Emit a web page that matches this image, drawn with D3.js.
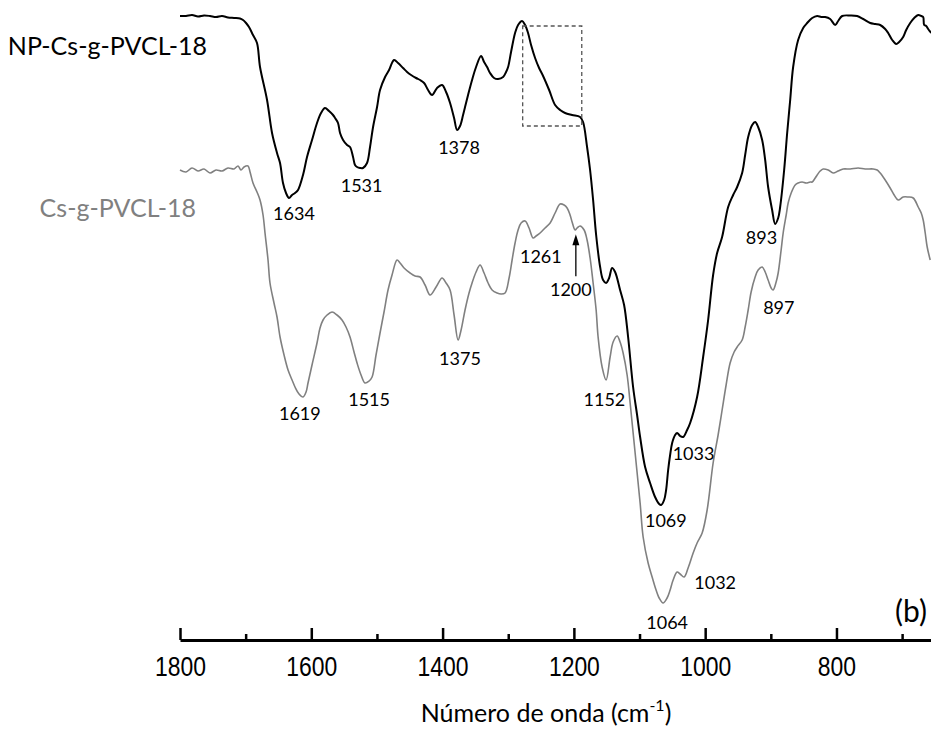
<!DOCTYPE html>
<html>
<head>
<meta charset="utf-8">
<script src="https://cdn.jsdelivr.net/npm/d3@7"></script>
<style>
  html, body { margin: 0; padding: 0; background: #fff; }
  svg { display: block; }
</style>
</head>
<body>
<svg id="chart" width="931" height="729"></svg>
<script>
// ---------------- DATA ----------------
// NP-Cs-g-PVCL-18 : [wavenumber (cm-1), transmittance (a.u.)]
const npSpectrum = [[1800.0,62.4],[1790.9,62.4],[1781.7,62.5],[1772.6,62.35],[1763.4,62.45],[1754.3,62.4],[1745.1,62.3],[1736.0,62.4],[1726.9,62.25],[1717.7,62.2],[1708.6,62.15],[1704.0,62.0],[1699.4,61.7],[1694.9,61.3],[1688.8,60.5],[1682.7,59.7],[1678.1,57.3],[1667.4,54.0],[1659.8,50.7],[1652.2,48.7],[1647.6,47.7],[1643.1,45.7],[1638.5,44.7],[1633.9,44.2],[1629.3,44.5],[1624.8,44.7],[1620.2,45.0],[1612.6,46.5],[1606.5,48.3],[1598.9,50.0],[1591.3,51.7],[1585.2,52.7],[1579.1,53.2],[1573.0,52.9],[1566.9,52.5],[1563.8,52.2],[1559.3,51.7],[1556.2,50.7],[1551.6,50.0],[1545.5,49.5],[1541.0,49.3],[1536.4,48.3],[1533.4,47.5],[1530.3,47.3],[1525.7,47.2],[1521.2,47.2],[1515.1,47.7],[1510.5,49.3],[1505.9,51.3],[1499.8,53.3],[1495.3,55.0],[1487.6,56.3],[1481.5,57.0],[1473.9,58.0],[1467.8,57.7],[1460.2,57.2],[1454.1,56.8],[1448.0,56.5],[1440.4,56.2],[1434.3,56.0],[1428.2,55.7],[1422.1,55.0],[1416.0,54.5],[1408.4,55.2],[1400.8,55.5],[1394.7,54.8],[1388.6,53.7],[1382.5,52.2],[1377.9,51.0],[1373.4,51.4],[1368.8,52.5],[1365.8,53.3],[1361.2,54.5],[1355.1,56.0],[1349.0,57.3],[1341.4,58.4],[1336.8,57.8],[1332.2,57.3],[1327.7,56.7],[1321.6,56.2],[1315.5,56.1],[1307.8,56.3],[1303.3,56.8],[1300.2,57.3],[1295.7,58.8],[1289.6,60.7],[1285.0,61.5],[1278.9,61.9],[1274.3,61.5],[1269.8,60.7],[1265.2,59.5],[1259.1,58.2],[1253.0,57.2],[1246.9,56.4],[1237.7,55.0],[1228.6,53.5],[1221.0,53.0],[1213.4,52.7],[1202.7,52.5],[1190.5,52.3],[1186.0,51.8],[1179.9,49.3],[1175.3,47.0],[1170.7,44.0],[1166.1,40.5],[1160.0,37.3],[1155.5,36.0],[1150.9,35.7],[1146.3,36.2],[1141.8,37.2],[1137.2,36.8],[1129.6,35.0],[1123.5,33.5],[1117.4,30.3],[1109.8,25.3],[1103.7,22.5],[1099.1,20.3],[1091.5,17.3],[1083.9,15.7],[1076.3,14.3],[1070.1,13.6],[1067.1,13.5],[1062.5,14.0],[1059.5,15.0],[1056.4,17.0],[1053.4,18.5],[1050.3,19.7],[1045.8,20.5],[1042.7,20.7],[1038.2,20.4],[1033.6,20.3],[1027.5,21.0],[1022.9,21.7],[1012.3,24.3],[1003.1,28.3],[995.5,32.0],[987.9,36.5],[981.8,38.7],[974.2,40.3],[965.0,43.3],[957.4,44.5],[951.3,45.3],[943.7,46.7],[939.1,48.5],[934.5,50.3],[928.4,51.5],[923.9,51.8],[919.3,51.3],[913.2,50.0],[908.6,48.0],[904.1,45.3],[898.0,43.0],[893.4,41.6],[888.8,42.2],[885.8,43.3],[879.7,47.0],[875.1,50.7],[870.5,54.0],[866.0,57.3],[858.4,60.0],[850.7,61.2],[844.6,61.7],[837.0,62.2],[829.4,62.4],[823.3,62.3],[817.2,62.3],[809.6,62.1],[802.0,61.5],[797.4,61.9],[791.3,62.4],[779.1,62.45],[768.5,62.4],[759.3,62.1],[748.6,61.7],[741.0,61.6],[733.4,61.5],[725.8,61.1],[721.2,60.7],[715.1,60.0],[709.0,59.6],[704.5,59.8],[698.4,60.3],[693.8,61.0],[687.7,61.7],[681.6,62.2],[675.5,62.5],[670.9,62.4],[667.9,62.3],[666.4,61.5],[663.3,61.4],[660.3,61.1],[655.7,60.7]];

// Cs-g-PVCL-18 : [wavenumber (cm-1), transmittance (a.u.)]
const csSpectrum = [[1800.0,47.0],[1790.9,46.8],[1781.7,47.2],[1772.6,46.9],[1763.4,47.1],[1754.3,46.7],[1745.1,47.0],[1736.0,46.9],[1726.9,47.2],[1717.7,47.1],[1711.6,47.4],[1707.1,47.0],[1702.5,47.3],[1696.4,47.4],[1693.3,46.8],[1688.8,45.7],[1682.7,44.8],[1678.1,44.0],[1673.5,42.5],[1670.5,40.7],[1665.9,38.0],[1662.9,35.7],[1656.8,33.7],[1652.2,32.3],[1647.6,30.3],[1641.5,28.5],[1635.4,27.0],[1629.3,26.0],[1624.8,25.3],[1618.7,24.6],[1612.6,24.3],[1608.0,24.8],[1605.0,25.7],[1598.9,27.5],[1591.3,29.7],[1586.7,31.2],[1582.1,32.0],[1576.0,32.5],[1568.4,32.8],[1560.8,32.5],[1553.2,32.0],[1547.1,31.3],[1541.0,30.3],[1534.9,28.8],[1530.3,27.7],[1524.2,26.5],[1518.1,25.7],[1512.0,25.9],[1507.4,26.3],[1501.4,28.5],[1495.3,30.7],[1489.2,32.8],[1483.1,35.0],[1477.0,36.5],[1469.4,38.0],[1464.8,37.7],[1458.7,37.2],[1449.5,36.7],[1441.9,36.4],[1434.3,36.3],[1426.7,35.5],[1419.1,34.5],[1409.9,35.3],[1400.8,36.2],[1394.7,35.7],[1388.6,35.0],[1382.5,32.5],[1376.4,30.0],[1371.8,31.0],[1365.8,33.0],[1359.7,34.7],[1355.1,35.7],[1349.0,36.8],[1342.9,37.5],[1336.8,36.7],[1330.7,35.7],[1324.6,35.0],[1317.0,34.7],[1310.9,34.6],[1304.8,34.7],[1298.7,36.2],[1294.1,38.0],[1289.6,39.7],[1285.0,41.0],[1280.4,41.7],[1274.3,41.9],[1268.3,41.2],[1262.1,40.2],[1257.6,40.4],[1251.5,40.7],[1243.9,41.2],[1236.2,41.7],[1228.6,42.7],[1221.0,43.6],[1214.9,43.5],[1210.3,43.2],[1205.8,42.5],[1202.7,41.8],[1198.1,41.0],[1195.1,41.2],[1190.5,41.4],[1184.4,41.0],[1179.9,40.0],[1175.3,38.2],[1170.7,35.7],[1166.1,33.0],[1163.1,30.3],[1157.0,27.3],[1150.9,26.0],[1144.8,28.3],[1140.2,29.8],[1134.1,30.4],[1129.6,29.8],[1125.0,28.7],[1118.9,26.5],[1114.3,23.7],[1106.7,18.7],[1099.1,13.7],[1094.5,10.3],[1086.9,7.7],[1080.8,6.3],[1076.3,5.3],[1070.1,4.2],[1064.1,3.7],[1058.0,4.2],[1053.4,5.0],[1048.8,6.0],[1042.7,6.8],[1038.2,6.6],[1032.1,6.3],[1026.0,7.2],[1018.3,8.7],[1012.3,9.7],[1004.6,10.7],[997.0,13.0],[987.9,17.7],[980.3,20.5],[974.2,23.0],[968.1,25.5],[962.0,27.7],[955.9,28.8],[951.3,29.3],[943.7,30.0],[939.1,31.3],[934.5,33.0],[930.0,34.8],[923.9,36.3],[919.3,37.0],[913.2,37.3],[908.6,36.8],[904.1,36.0],[899.5,35.2],[896.5,35.0],[891.9,35.8],[888.8,36.7],[884.3,39.0],[881.2,40.7],[876.6,42.5],[873.6,43.7],[869.0,44.7],[862.9,45.5],[858.4,45.7],[852.3,45.8],[846.2,45.7],[840.1,45.8],[837.0,45.8],[832.4,46.2],[829.4,46.5],[824.8,46.9],[820.3,47.1],[812.6,47.0],[805.0,46.7],[797.4,46.9],[789.8,47.1],[779.1,47.1],[767.0,47.2],[756.3,47.1],[744.1,47.1],[738.0,47.0],[733.4,46.7],[725.8,46.0],[718.2,45.2],[712.1,44.5],[706.0,44.0],[698.4,44.3],[690.8,44.3],[683.1,44.2],[675.5,43.3],[670.9,42.7],[667.9,42.0],[664.8,40.7],[661.8,39.3],[657.2,38.0]];

const seriesNames = ["NP-Cs-g-PVCL-18", "Cs-g-PVCL-18"];
const npPeaks = ["1634", "1531", "1378", "1069", "1033", "893"];
const csPeaks = ["1619", "1515", "1375", "1261", "1200", "1152", "1064", "1032", "897"];
const majorTicks = [1800, 1600, 1400, 1200, 1000, 800];
const minorTicks = [1700, 1500, 1300, 1100, 900, 700];
const tickLabels = ["1800", "1600", "1400", "1200", "1000", "800"];
const highlightWn = [1278, 1188];   // dashed box, wavenumber span
const highlightT = [51.4, 61.4];    // dashed box, transmittance span
const panelLabel = "(b)";

// ---------------- LAYOUT / STYLE ----------------
const svg = d3.select("#chart");
const x = d3.scaleLinear().domain([1800, 656]).range([180, 931]);
const y = d3.scaleLinear().domain([0, 64]).range([640, 0]);
const annFont = "Lato, 'Open Sans', sans-serif";
const grayCol = "#808080";

// spectra
const line = d3.line().x(d => x(d[0])).y(d => y(d[1])).curve(d3.curveCatmullRom.alpha(0.5));
svg.append("path").datum(csSpectrum).attr("d", line)
  .attr("fill", "none").attr("stroke", grayCol).attr("stroke-width", 1.6).attr("stroke-linejoin", "round");
svg.append("path").datum(npSpectrum).attr("d", line)
  .attr("fill", "none").attr("stroke", "#000").attr("stroke-width", 2).attr("stroke-linejoin", "round");

// dashed highlight box
svg.append("rect")
  .attr("x", x(highlightWn[0])).attr("y", y(highlightT[1]))
  .attr("width", x(highlightWn[1]) - x(highlightWn[0]))
  .attr("height", y(highlightT[0]) - y(highlightT[1]))
  .attr("fill", "none").attr("stroke", "#555").attr("stroke-width", 1.3)
  .attr("stroke-dasharray", "4,3");

// helper: value of a spectrum at a wavenumber
function valueAt(data, wn) {
  for (let i = 0; i < data.length - 1; i++) {
    const a = data[i], b = data[i + 1];
    if (wn <= a[0] && wn >= b[0]) {
      const t = (a[0] - wn) / (a[0] - b[0]);
      return a[1] + t * (b[1] - a[1]);
    }
  }
  return data[data.length - 1][1];
}

// peak annotation offsets (px) : [dx, dy below curve]
const npOffsets = {"1634": [5, 22], "1531": [5, 25], "1378": [2, 24], "1069": [6, 23], "1033": [10, 24], "893": [-14, 21]};
const csOffsets = {"1619": [1, 26], "1515": [2, 24], "1375": [1, 28], "1261": [7, 25], "1200": [-3, 69],
                   "1152": [-1, 28], "1064": [4, 26], "1032": [31, 12], "897": [6, 24]};

function addPeaks(data, peaks, offs) {
  peaks.forEach(p => {
    const wn = +p;
    const o = offs[p];
    svg.append("text")
      .attr("x", x(wn) + o[0]).attr("y", y(valueAt(data, wn)) + o[1])
      .attr("text-anchor", "middle")
      .attr("font-family", annFont).attr("font-size", 18).attr("fill", "#000")
      .text(p);
  });
}
addPeaks(npSpectrum, npPeaks, npOffsets);
addPeaks(csSpectrum, csPeaks, csOffsets);

// arrow to 1200 shoulder
const arrWn = 1197;
const arrTipY = y(valueAt(csSpectrum, arrWn)) + 5;
const arrX = x(arrWn);
svg.append("line").attr("x1", arrX).attr("x2", arrX)
  .attr("y1", arrTipY + 42).attr("y2", arrTipY + 8)
  .attr("stroke", "#000").attr("stroke-width", 1.3);
svg.append("path")
  .attr("d", `M${arrX},${arrTipY} L${arrX - 3.5},${arrTipY + 11} L${arrX + 3.5},${arrTipY + 11} Z`)
  .attr("fill", "#000");

// series labels
svg.append("text").attr("x", 207).attr("y", y(npSpectrum[0][1]) + 39)
  .attr("text-anchor", "end").attr("font-family", annFont).attr("font-size", 25)
  .attr("fill", "#000").text(seriesNames[0]);
svg.append("text").attr("x", 196).attr("y", y(csSpectrum[0][1]) + 47)
  .attr("text-anchor", "end").attr("font-family", annFont).attr("font-size", 25)
  .attr("fill", grayCol).text(seriesNames[1]);

// axis
const axisG = svg.append("g").attr("transform", `translate(0,${y(0)})`);
axisG.call(d3.axisBottom(x).tickValues(minorTicks).tickSizeInner(-6).tickSizeOuter(0).tickFormat(""))
  .call(g => g.select(".domain").remove())
  .selectAll(".tick line").attr("stroke", "#000").attr("stroke-width", 2.5);
const axisMajor = svg.append("g").attr("transform", `translate(0,${y(0)})`)
  .call(d3.axisBottom(x).tickValues(majorTicks).tickSizeInner(-12).tickSizeOuter(0)
    .tickPadding(17).tickFormat((d, i) => tickLabels[i]));
axisMajor.select(".domain").attr("stroke", "#000").attr("stroke-width", 3);
axisMajor.selectAll(".tick line").attr("stroke", "#000").attr("stroke-width", 2.5);
axisMajor.selectAll(".tick text")
  .attr("font-family", "'Liberation Sans Narrow', 'Liberation Sans', Arial, sans-serif")
  .attr("font-size", 27).attr("fill", "#000")
  .attr("textLength", d => String(d).length * 12.75)
  .attr("lengthAdjust", "spacingAndGlyphs");

// axis title
const title = svg.append("text").attr("x", 546).attr("y", 722)
  .attr("text-anchor", "middle").attr("font-family", annFont).attr("font-size", 25).attr("fill", "#000");
title.append("tspan").text("Número de onda (cm");
title.append("tspan").attr("font-size", 16).attr("dy", -11).text("-1");
title.append("tspan").attr("dy", 11).text(")");

// panel label
svg.append("text").attr("x", 927).attr("y", 622).attr("text-anchor", "end")
  .attr("font-family", annFont).attr("font-size", 30).attr("fill", "#000").text(panelLabel);
</script>
</body>
</html>
